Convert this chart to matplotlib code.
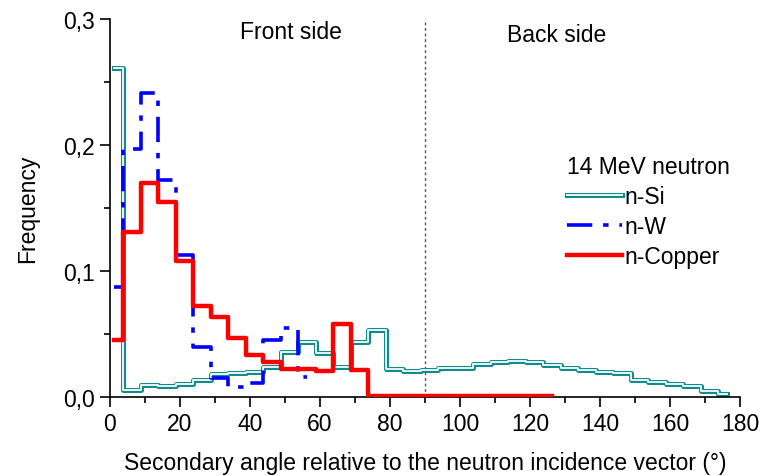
import numpy as np
import matplotlib.pyplot as plt
from matplotlib.ticker import MultipleLocator, FuncFormatter

plt.rcParams['font.family'] = ['Liberation Sans', 'DejaVu Sans']

# bin centres are 1.25, 6.25, ... (5 degree bins)
angle_si = np.arange(36) * 5 + 1.25
freq_si = [0.261, 0.0056, 0.0095, 0.0085, 0.0103, 0.0135, 0.018, 0.019, 0.020,
           0.0235, 0.0354, 0.044, 0.0347, 0.0235, 0.0433, 0.0534, 0.0222, 0.0204,
           0.0212, 0.0227, 0.0227, 0.0262, 0.0275, 0.0288, 0.0275, 0.0254, 0.0227,
           0.0215, 0.020, 0.019, 0.0138, 0.0117, 0.0103, 0.009, 0.005, 0.0024]

angle_w = np.arange(12) * 5 + 1.25
freq_w = [0.087, 0.197, 0.241, 0.172, 0.113, 0.040, 0.015, 0.008, 0.011,
          0.045, 0.055, 0.016]

angle_cu = np.arange(26) * 5 + 1.25
freq_cu = [0.045, 0.131, 0.170, 0.155, 0.108, 0.0725, 0.0635, 0.047, 0.033,
           0.0275, 0.022, 0.022, 0.0205, 0.058, 0.0215, 0.001, 0.001, 0.001,
           0.001, 0.001, 0.001, 0.001, 0.001, 0.001, 0.001, 0.001]

teal = '#108c8c'
fs = 16.5

fig = plt.figure(figsize=(7.61, 4.77), dpi=100)
ax = fig.add_axes([0.1445, 0.1656, 0.828, 0.7924])

# n-Si drawn as a hollow double line
si_out, = ax.step(angle_si, freq_si, where='mid', color=teal, lw=3.6, zorder=2)
si_in, = ax.step(angle_si, freq_si, where='mid', color='#e8f4f4', lw=1.4, zorder=2.1)
w_line, = ax.step(angle_w, freq_w, where='mid', color='#0000ff', lw=2.6,
                  dashes=(7, 3, 1.5, 3), zorder=3)
cu_line, = ax.step(angle_cu, freq_cu, where='mid', color='#ff0000', lw=3.2, zorder=4)

ax.axvline(90, color='#555555', lw=1, ls=(0, (2, 2)), zorder=1)

ax.text(51.7, 0.29, 'Front side', fontsize=fs, ha='center', va='center')
ax.text(127.7, 0.288, 'Back side', fontsize=fs, ha='center', va='center')

ax.set_xlim(0, 180)
ax.set_ylim(0, 0.3)
ax.xaxis.set_major_locator(MultipleLocator(20))
ax.xaxis.set_minor_locator(MultipleLocator(10))
ax.yaxis.set_major_locator(MultipleLocator(0.1))
ax.yaxis.set_minor_locator(MultipleLocator(0.05))
ax.yaxis.set_major_formatter(FuncFormatter(lambda v, p: ('%.1f' % v).replace('.', ',')))
ax.tick_params(which='major', direction='out', length=7, width=1.2, labelsize=fs, pad=4)
ax.tick_params(which='minor', direction='out', length=4, width=1.2)

ax.spines['top'].set_visible(False)
ax.spines['right'].set_visible(False)
ax.spines['left'].set_linewidth(1.2)
ax.spines['bottom'].set_linewidth(1.2)

ax.set_xlabel('Secondary angle relative to the neutron incidence vector (°)', fontsize=fs,
              labelpad=11)
ax.set_ylabel('Frequency', fontsize=fs, labelpad=17)

leg = ax.legend([(si_out, si_in), w_line, cu_line], ['n-Si', 'n-W', 'n-Copper'],
                title='14 MeV neutron', loc='upper left', bbox_to_anchor=(0.726, 0.64),
                frameon=False, fontsize=fs, title_fontsize=fs, handlelength=2.4,
                handletextpad=0.1, labelspacing=0.3, alignment='left',
                borderpad=0, borderaxespad=0)

fig.savefig('out.png', dpi=100)
